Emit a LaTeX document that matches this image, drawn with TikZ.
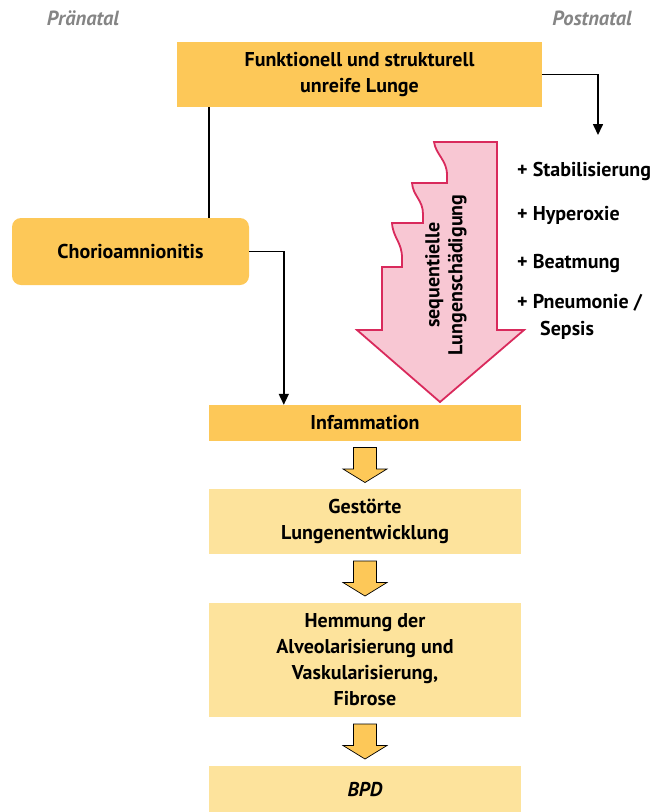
\documentclass[tikz,border=0pt]{standalone}
\usepackage{fontspec}
\setmainfont{PT Sans}
\usetikzlibrary{calc,arrows.meta}
\definecolor{boxdark}{HTML}{FDC858}
\definecolor{boxlight}{HTML}{FDE39C}
\definecolor{pinkfill}{HTML}{F8C7D3}
\definecolor{pinkline}{HTML}{D92A5C}
\definecolor{labelgray}{HTML}{858585}
\begin{document}
\begin{tikzpicture}[x=1pt,y=-1pt,
  txt/.style={font=\fontsize{20}{26}\selectfont\bfseries},
  box/.style={txt, fill=boxdark, draw=none, inner sep=0pt, align=center},
  lightbox/.style={box, fill=boxlight},
  conn/.style={line width=1.6pt, black},
  tip/.style={-{Triangle[length=11pt,width=10pt]}},
  listitem/.style={txt, anchor=west, inner sep=0pt},
  phase/.style={font=\fontsize{20.5}{22}\selectfont\bfseries\itshape, text=labelgray, inner sep=0pt},
  blockarrow/.pic={\draw[fill=boxdark, line width=0.7pt]
     (-11.5,-17.5) -- (11.5,-17.5) -- (11.5,4) -- (22,4) -- (0,17.5) -- (-22,4) -- (-11.5,4) -- cycle;}
]
\useasboundingbox (0,0) rectangle (668,812);

% phase labels
\node[phase] (pre) at (83,18) {Pränatal};
\node[phase] (post) at (592,18) {Postnatal};

% boxes
\node[box, minimum width=365pt, minimum height=65pt] (top) at (359.5,74.5)
  {Funktionell und strukturell\\unreife Lunge};
\node[box, minimum width=237pt, minimum height=67pt, rounded corners=9pt] (chorio) at (130.5,251.5)
  {Chorioamnionitis};
\node[box, minimum width=312pt, minimum height=36pt] (infl) at (365,423) {Infammation};
\node[lightbox, minimum width=312pt, minimum height=65pt] (gest) at (365,521.5)
  {Gestörte\\Lungenentwicklung};
\node[lightbox, minimum width=312pt, minimum height=114pt] (hemm) at (365,660)
  {Hemmung der\\Alveolarisierung und\\Vaskularisierung,\\Fibrose};
\node[lightbox, minimum width=312pt, minimum height=46pt] (bpd) at (365,789)
  {\itshape BPD};

% connectors
\coordinate (postend) at (598,135);
\draw[conn] ([xshift=32pt]top.south west) -- ([xshift=32pt]top.south west |- chorio.north);
\draw[conn, tip] (top.east) -| (postend);
\draw[conn, tip] (chorio.east) -| ([xshift=75pt]infl.north west);

% big arrow
\draw[pinkline, fill=pinkfill, line width=1.8pt, line join=miter]
  (497,142) -- (497,330) -- (524,330) -- (440,402) -- (357,330) -- (382,330) -- (382,267) -- (402,267)
  -- (402,258) .. controls (402,242) and (393,238) .. (392,223)
  -- (423,223) -- (423,214) .. controls (423,200) and (413,196) .. (412,183)
  -- (447,183) -- (447,175) .. controls (447,160) and (436,155) .. (434,142) -- cycle;
\node[rotate=90, align=center, inner sep=0pt, font=\fontsize{20}{23}\selectfont\bfseries] (seq) at (446,275)
  {sequentielle\\Lungenschädigung};

% list
\node[listitem] (l1) at (517,171) {+ Stabilisierung};
\node[listitem] (l2) at (517,215) {+ Hyperoxie};
\node[listitem] (l3) at (517,264) {+ Beatmung};
\node[listitem] (l4) at (517,303) {+ Pneumonie /};
\node[listitem] (l5) at (540,330) {Sepsis};

% block arrows between boxes
\coordinate (a1) at ($(infl.south)!0.5!(gest.north)$);
\coordinate (a2) at ($(gest.south)!0.5!(hemm.north)$);
\coordinate (a3) at ($(hemm.south)!0.5!(bpd.north)$);
\pic at (a1) {blockarrow};
\pic at (a2) {blockarrow};
\pic at (a3) {blockarrow};
\end{tikzpicture}
\end{document}
